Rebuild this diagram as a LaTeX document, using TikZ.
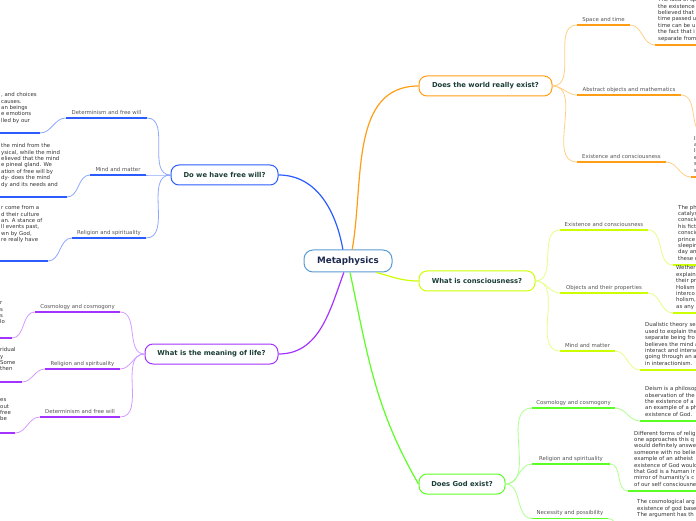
\documentclass[tikz,border=0pt]{standalone}
\usepackage{fontspec}
\setmainfont{DejaVu Sans}
\usetikzlibrary{positioning,calc}
\definecolor{kozepkek}{HTML}{5A9BD5}
\definecolor{kozepszoveg}{HTML}{1C2B4F}
\definecolor{foszoveg}{HTML}{1A3D35}
\definecolor{agszoveg}{HTML}{555555}
\definecolor{szovegszin}{HTML}{333333}
\definecolor{narancs}{HTML}{FF9D14}
\definecolor{narancsv}{HTML}{FFCF85}
\definecolor{sarga}{HTML}{CCFF00}
\definecolor{sargav}{HTML}{E4FF85}
\definecolor{zold}{HTML}{5CFF24}
\definecolor{zoldv}{HTML}{ADFF8F}
\definecolor{kek}{HTML}{2B5CFF}
\definecolor{kekv}{HTML}{8FA8FF}
\definecolor{lila}{HTML}{A333FF}
\definecolor{lilav}{HTML}{D29CFF}
\tikzset{
  kozep/.style={draw=kozepkek,line width=1pt,rounded corners=9pt,fill=white,text=kozepszoveg,
                font=\fontsize{8.8}{10}\selectfont\bfseries,minimum width=88pt,minimum height=22pt,inner sep=2pt},
  fo/.style={draw=#1,line width=1pt,rounded corners=8pt,fill=white,text=foszoveg,
             font=\fontsize{6.8}{8}\selectfont\bfseries,minimum height=20pt,inner sep=2pt},
  ag/.style={font=\fontsize{5.4}{6}\selectfont,text=agszoveg,inner sep=0pt,anchor=base},
  szoveg/.style={font=\fontsize{5.4}{6.4}\selectfont,text=szovegszin,align=left,inner sep=0pt,anchor=north west},
  alahuz/.style={draw=#1,line width=1.5pt},
  kotes/.style={draw=#1,line width=0.8pt},
  fokotes/.style={draw=#1,line width=1.2pt},
}
\begin{document}
\begin{tikzpicture}[x=1pt,y=1pt]
  \useasboundingbox (0,0) rectangle (696,520);
  % kozepso es fo csomopontok
  \node[kozep] (meta) at (348,259) {Metaphysics};
  \node[fo=narancs,minimum width=133pt] (vilag) at (485.5,434) {Does the world really exist?};
  \node[fo=sarga,minimum width=116pt] (tudat) at (477,239) {What is consciousness?};
  \node[fo=zold,minimum width=86pt] (isten) at (462,36) {Does God exist?};
  \node[fo=kek,minimum width=107pt] (szabad) at (224.5,345) {Do we have free will?};
  \node[fo=lila,minimum width=133pt] (elet) at (211.5,166) {What is the meaning of life?};

  \draw[fokotes=narancs] (meta.70) to[out=80,in=180] (vilag.west);
  \draw[fokotes=kek] (meta.114) to[out=100,in=0] (szabad.east);
  \draw[fokotes=sarga] (meta.338) to[out=-15,in=180] (tudat.west);
  \draw[fokotes=zold] (meta.280) to[out=-78,in=120] (isten.west);
  \draw[fokotes=lila] (meta.250) to[out=250,in=0] (elet.east);

  % Does the world really exist?
  \coordinate (u1a) at (577,495); \coordinate (u1b) at (630,495);
  \coordinate (u1c) at (655,475); \coordinate (u1d) at (700,475);
  \coordinate (u2a) at (577,425); \coordinate (u2b) at (681,425);
  \coordinate (u2c) at (706,385); \coordinate (u2d) at (760,385);
  \coordinate (u3a) at (577,358); \coordinate (u3b) at (666,358);
  \coordinate (u3c) at (691,343); \coordinate (u3d) at (760,343);
  \draw[kotes=narancsv] (vilag.east) to[out=0,in=180] (u1a);
  \draw[kotes=narancsv] (vilag.east) to[out=0,in=180] (u2a);
  \draw[kotes=narancsv] (vilag.east) to[out=0,in=180] (u3a);
  \draw[alahuz=narancs] (u1a) -- (u1b);
  \draw[alahuz=narancs] (u2a) -- (u2b);
  \draw[alahuz=narancs] (u3a) -- (u3b);
  \draw[kotes=narancsv] (u1b) to[out=0,in=180] (u1c);
  \draw[kotes=narancsv] (u2b) to[out=0,in=180] (u2c);
  \draw[kotes=narancsv] (u3b) to[out=0,in=180] (u3c);
  \draw[alahuz=narancs] (u1c) -- (u1d);
  \draw[alahuz=narancs] (u3c) -- (u3d);
  \node[ag] (u1) at ($(u1a)!.5!(u1b)+(0,3.8)$) {Space and time};
  \node[ag] (u2) at ($(u2a)!.5!(u2b)+(0,3.8)$) {Abstract objects and mathematics};
  \node[ag] (u3) at ($(u3a)!.5!(u3b)+(0,3.8)$) {Existence and consciousness};
  \node[szoveg] (u1sz) at (658,522.5) {The idea of sp\\the existence\\believed that\\time passed u\\time can be u\\the fact that i\\separate from};
  \node[szoveg] (u3sz) at (694,384) {I\\a\\I\\e\\s\\s};

  % What is consciousness?
  \coordinate (t1a) at (560,290); \coordinate (t1b) at (648,290);
  \coordinate (t1c) at (673,255); \coordinate (t1d) at (700,255);
  \coordinate (t2a) at (560,227); \coordinate (t2b) at (648,227);
  \coordinate (t2c) at (673,207); \coordinate (t2d) at (700,207);
  \coordinate (t3a) at (560,169); \coordinate (t3b) at (615,169);
  \coordinate (t3c) at (640,150); \coordinate (t3d) at (700,150);
  \draw[kotes=sargav] (tudat.east) to[out=0,in=180] (t1a);
  \draw[kotes=sargav] (tudat.east) to[out=0,in=180] (t2a);
  \draw[kotes=sargav] (tudat.east) to[out=0,in=180] (t3a);
  \draw[alahuz=sarga] (t1a) -- (t1b);
  \draw[alahuz=sarga] (t2a) -- (t2b);
  \draw[alahuz=sarga] (t3a) -- (t3b);
  \draw[kotes=sargav] (t1b) to[out=0,in=180] (t1c);
  \draw[kotes=sargav] (t2b) to[out=0,in=180] (t2c);
  \draw[kotes=sargav] (t3b) to[out=0,in=180] (t3c);
  \draw[alahuz=sarga] (t1c) -- (t1d);
  \draw[alahuz=sarga] (t2c) -- (t2d);
  \draw[alahuz=sarga] (t3c) -- (t3d);
  \node[ag] (t1) at ($(t1a)!.5!(t1b)+(0,3.8)$) {Existence and consciousness};
  \node[ag] (t2) at ($(t2a)!.5!(t2b)+(0,3.8)$) {Objects and their properties};
  \node[ag] (t3) at ($(t3a)!.5!(t3b)+(0,3.8)$) {Mind and matter};
  \node[szoveg] (t1sz) at (678,315.3) {The ph\\catalys\\conscio\\his fict\\conscio\\prince\\sleepin\\day an\\these c};
  \node[szoveg] (t2sz) at (676,254.5) {Wether\\explain\\their pr\\Holism\\interco\\holism,\\as any};
  \node[szoveg] (t3sz) at (645,197.5) {Dualistic theory se\\used to explain the\\separate being fro\\believes the mind a\\interact and interse\\going through an a\\in interactionism.};

  % Does God exist?
  \coordinate (i1a) at (532,112); \coordinate (i1b) at (615,112);
  \coordinate (i1c) at (640,99); \coordinate (i1d) at (700,99);
  \coordinate (i2a) at (532,56); \coordinate (i2b) at (610,56);
  \coordinate (i2c) at (628,29); \coordinate (i2d) at (700,29);
  \coordinate (i3a) at (532,1.5); \coordinate (i3b) at (608,1.5);
  \coordinate (i3c) at (628,-20); \coordinate (i3d) at (700,-20);
  \draw[kotes=zoldv] (isten.east) to[out=0,in=180] (i1a);
  \draw[kotes=zoldv] (isten.east) to[out=0,in=180] (i2a);
  \draw[kotes=zoldv] (isten.east) to[out=0,in=180] (i3a);
  \draw[alahuz=zold] (i1a) -- (i1b);
  \draw[alahuz=zold] (i2a) -- (i2b);
  \draw[alahuz=zold] (i3a) -- (i3b);
  \draw[kotes=zoldv] (i1b) to[out=0,in=180] (i1c);
  \draw[kotes=zoldv] (i2b) to[out=0,in=180] (i2c);
  \draw[kotes=zoldv] (i3b) to[out=0,in=180] (i3c);
  \draw[alahuz=zold] (i1c) -- (i1d);
  \draw[alahuz=zold] (i2c) -- (i2d);
  \node[ag] (i1) at ($(i1a)!.5!(i1b)+(0,3.8)$) {Cosmology and cosmogony};
  \node[ag] (i2) at ($(i2a)!.5!(i2b)+(0,3.8)$) {Religion and spirituality};
  \node[ag] (i3) at ($(i3a)!.5!(i3b)+(0,3.8)$) {Necessity and possibility};
  \node[szoveg] (i1sz) at (645,133.7) {Deism is a philosop\\observation of the\\the existence of a\\an example of a ph\\existence of God.};
  \node[szoveg] (i2sz) at (634,89.3) {Different forms of relig\\one approaches this q\\would definitely answe\\someone with no belie\\example of an atheist\\existence of God would\\that God is a human ir\\mirror of humanity's c\\of our self consciousne};
  \node[szoveg] (i3sz) at (637,20.6) {The cosmological arg\\existence of god base\\The argument has th};

  % Do we have free will?
  \coordinate (s1b) at (147,402); \coordinate (s1a) at (66,402);
  \coordinate (s1c) at (40,387); \coordinate (s1d) at (-10,387);
  \coordinate (s2b) at (146,345); \coordinate (s2a) at (90,345);
  \coordinate (s2c) at (67,323); \coordinate (s2d) at (-10,323);
  \coordinate (s3b) at (146,282); \coordinate (s3a) at (72,282);
  \coordinate (s3c) at (48,259); \coordinate (s3d) at (-10,259);
  \draw[kotes=kekv] (szabad.west) to[out=180,in=0] (s1b);
  \draw[kotes=kekv] (szabad.west) to[out=180,in=0] (s2b);
  \draw[kotes=kekv] (szabad.west) to[out=180,in=0] (s3b);
  \draw[alahuz=kek] (s1a) -- (s1b);
  \draw[alahuz=kek] (s2a) -- (s2b);
  \draw[alahuz=kek] (s3a) -- (s3b);
  \draw[kotes=kekv] (s1a) to[out=180,in=0] (s1c);
  \draw[kotes=kekv] (s2a) to[out=180,in=0] (s2c);
  \draw[kotes=kekv] (s3a) to[out=180,in=0] (s3c);
  \draw[alahuz=kek] (s1c) -- (s1d);
  \draw[alahuz=kek] (s2c) -- (s2d);
  \draw[alahuz=kek] (s3c) -- (s3d);
  \node[ag] (s1) at ($(s1a)!.5!(s1b)+(0,3.8)$) {Determinism and free will};
  \node[ag] (s2) at ($(s2a)!.5!(s2b)+(0,3.8)$) {Mind and matter};
  \node[ag] (s3) at ($(s3a)!.5!(s3b)+(0,3.8)$) {Religion and spirituality};
  \node[szoveg] (s1sz) at (1,427.6) {, and choices\\causes.\\an beings\\e emotions\\lled by our};
  \node[szoveg] (s2sz) at (1,376.6) {the mind from the\\ysical, while the mind\\elieved that the mind\\e pineal gland. We\\ation of free will by\\dy- does the mind\\dy and its needs and};
  \node[szoveg] (s3sz) at (1,314.6) {r come from a\\d their culture\\an. A stance of\\ll events past,\\wn by God,\\re really have};

  % What is the meaning of life?
  \coordinate (e1b) at (120,208); \coordinate (e1a) at (35,208);
  \coordinate (e1c) at (12,182); \coordinate (e1d) at (-10,182);
  \coordinate (e2b) at (120,151); \coordinate (e2a) at (45,151);
  \coordinate (e2c) at (22,138); \coordinate (e2d) at (-10,138);
  \coordinate (e3b) at (120,103); \coordinate (e3a) at (40,103);
  \coordinate (e3c) at (15,87); \coordinate (e3d) at (-10,87);
  \draw[kotes=lilav] (elet.west) to[out=180,in=0] (e1b);
  \draw[kotes=lilav] (elet.west) to[out=180,in=0] (e2b);
  \draw[kotes=lilav] (elet.west) to[out=180,in=0] (e3b);
  \draw[alahuz=lila] (e1a) -- (e1b);
  \draw[alahuz=lila] (e2a) -- (e2b);
  \draw[alahuz=lila] (e3a) -- (e3b);
  \draw[kotes=lilav] (e1a) to[out=180,in=0] (e1c);
  \draw[kotes=lilav] (e2a) to[out=180,in=0] (e2c);
  \draw[kotes=lilav] (e3a) to[out=180,in=0] (e3c);
  \draw[alahuz=lila] (e1c) -- (e1d);
  \draw[alahuz=lila] (e2c) -- (e2d);
  \draw[alahuz=lila] (e3c) -- (e3d);
  \node[ag] (e1) at ($(e1a)!.5!(e1b)+(0,3.8)$) {Cosmology and cosmogony};
  \node[ag] (e2) at ($(e2a)!.5!(e2b)+(0,3.8)$) {Religion and spirituality};
  \node[ag] (e3) at ($(e3a)!.5!(e3b)+(0,3.8)$) {Determinism and free will};
  \node[szoveg] (e1sz) at (0,218.6) {r\\s\\s\\lo};
  \node[szoveg] (e2sz) at (0,172.6) {ridual\\y\\Some\\then};
  \node[szoveg] (e3sz) at (0,121.6) {es\\out\\free\\be};
\end{tikzpicture}
\end{document}
